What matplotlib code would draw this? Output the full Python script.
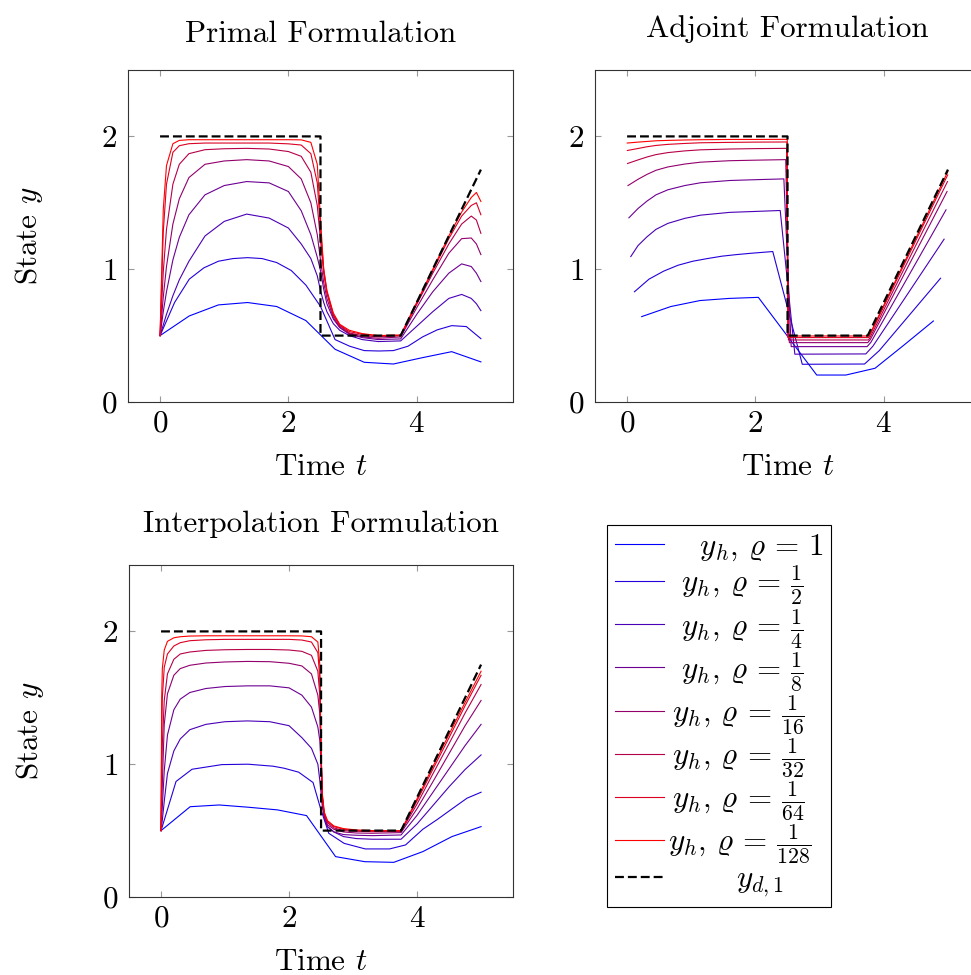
import matplotlib
matplotlib.use('Agg')
import matplotlib.pyplot as plt

plt.rcParams['font.family'] = 'serif'
plt.rcParams['font.serif'] = ['cmr10']
plt.rcParams['mathtext.fontset'] = 'cm'
plt.rcParams['axes.formatter.use_mathtext'] = True
plt.rcParams['font.size'] = 22

FS = 22.4

# target state y_d
yd_t = [0, 2.5, 2.5, 3.75, 5.0]
yd_v = [2.0, 2.0, 0.5, 0.5, 1.75]

# ---------------- primal formulation
p_t1 = [0, 0.455, 0.909, 1.364, 1.818, 2.273, 2.727, 3.182, 3.636, 4.091, 4.545, 5.0]
p_y1 = [0.5, 0.648, 0.731, 0.749, 0.719, 0.613, 0.397, 0.299, 0.286, 0.334, 0.379, 0.302]
p_t2 = [0, 0.227, 0.455, 0.682, 0.909, 1.136, 1.364, 1.591, 1.818, 2.045, 2.273, 2.5,
        2.727, 2.955, 3.182, 3.409, 3.636, 3.864, 4.091, 4.318, 4.545, 4.773, 5.0]
p_y2 = [0.5, 0.75, 0.925, 1.01, 1.06, 1.08, 1.087, 1.08, 1.05, 0.99, 0.88, 0.72,
        0.47, 0.42, 0.387, 0.384, 0.387, 0.42, 0.49, 0.543, 0.575, 0.568, 0.477]
p_t = [0, 0.05, 0.1, 0.2, 0.3, 0.45, 0.7, 1.0, 1.35, 1.7, 2.0, 2.2, 2.35, 2.45, 2.5,
       2.55, 2.6, 2.7, 2.8, 2.95, 3.15, 3.4, 3.75, 4.0, 4.25, 4.5, 4.7, 4.85, 4.93, 5.0]
p_y4 = [0.5, 0.58, 0.66, 0.80, 0.92, 1.06, 1.25, 1.36, 1.415, 1.385, 1.31, 1.19, 1.08, 0.95, 0.84,
        0.75, 0.68, 0.59, 0.54, 0.50, 0.47, 0.455, 0.46, 0.57, 0.68, 0.78, 0.81, 0.78, 0.74, 0.688]
p_y8 = [0.5, 0.68, 0.83, 1.07, 1.24, 1.41, 1.56, 1.63, 1.66, 1.65, 1.585, 1.44, 1.26, 1.09, 0.99,
        0.85, 0.74, 0.625, 0.56, 0.51, 0.485, 0.47, 0.475, 0.66, 0.83, 0.97, 1.04, 1.02, 0.97, 0.907]
p_y16 = [0.5, 0.79, 1.02, 1.34, 1.53, 1.69, 1.79, 1.815, 1.825, 1.815, 1.773, 1.68, 1.50, 1.26, 1.07,
         0.90, 0.78, 0.635, 0.565, 0.515, 0.49, 0.48, 0.49, 0.71, 0.92, 1.12, 1.23, 1.235, 1.19, 1.11]
p_y32 = [0.5, 0.98, 1.30, 1.64, 1.79, 1.87, 1.90, 1.907, 1.91, 1.905, 1.886, 1.85, 1.73, 1.48, 1.22,
         0.97, 0.82, 0.65, 0.575, 0.52, 0.50, 0.49, 0.50, 0.735, 0.97, 1.19, 1.34, 1.40, 1.37, 1.27]
p_y64 = [0.5, 1.28, 1.64, 1.88, 1.93, 1.945, 1.95, 1.95, 1.95, 1.95, 1.944, 1.935, 1.87, 1.65, 1.30,
         1.0, 0.83, 0.66, 0.58, 0.53, 0.51, 0.497, 0.50, 0.745, 0.99, 1.23, 1.40, 1.48, 1.50, 1.41]
p_y128 = [0.5, 1.45, 1.78, 1.945, 1.97, 1.975, 1.975, 1.975, 1.975, 1.975, 1.975, 1.974, 1.955, 1.79, 1.38,
          1.0, 0.84, 0.67, 0.585, 0.54, 0.515, 0.50, 0.505, 0.75, 1.0, 1.25, 1.43, 1.54, 1.578, 1.51]

# ---------------- adjoint formulation
a_t1 = [0.227, 0.682, 1.136, 1.591, 2.045, 2.955, 3.409, 3.864, 4.318, 4.773]
a_y1 = [0.643, 0.719, 0.764, 0.78, 0.788, 0.203, 0.203, 0.254, 0.43, 0.61]
a_t2 = [0.114, 0.341, 0.568, 0.795, 1.023, 1.25, 1.477, 1.705, 1.932, 2.27, 2.73, 3.70, 3.93, 4.885]
a_y2 = [0.83, 0.925, 0.985, 1.03, 1.06, 1.08, 1.098, 1.11, 1.12, 1.133, 0.284, 0.286, 0.387, 0.932]
a_t4 = [0.057, 0.17, 0.31, 0.45, 0.635, 0.9, 1.146, 1.6, 2.0, 2.386, 2.614, 3.72, 3.83, 4.94]
a_y4 = [1.095, 1.178, 1.244, 1.30, 1.345, 1.383, 1.407, 1.428, 1.435, 1.442, 0.36, 0.362, 0.42, 1.226]
a_t8 = [0.028, 0.17, 0.31, 0.45, 0.635, 0.9, 1.146, 1.6, 2.0, 2.443, 2.557, 3.74, 3.8, 4.97]
a_y8 = [1.387, 1.457, 1.513, 1.56, 1.598, 1.63, 1.651, 1.668, 1.674, 1.68, 0.417, 0.417, 0.45, 1.447]
a_t16 = [0.014, 0.17, 0.31, 0.45, 0.635, 0.9, 1.146, 1.6, 2.0, 2.472, 2.528, 3.75, 3.79, 4.986]
a_y16 = [1.63, 1.677, 1.714, 1.745, 1.77, 1.792, 1.806, 1.817, 1.821, 1.825, 0.447, 0.447, 0.47, 1.585]
a_t32 = [0.007, 0.17, 0.31, 0.45, 0.635, 0.9, 1.146, 1.6, 2.0, 2.486, 2.514, 3.76, 3.78, 4.993]
a_y32 = [1.796, 1.823, 1.845, 1.863, 1.878, 1.891, 1.899, 1.905, 1.908, 1.91, 0.467, 0.467, 0.48, 1.66]
a_t64 = [0.004, 0.17, 0.31, 0.45, 0.635, 0.9, 1.146, 1.6, 2.0, 2.493, 2.507, 3.765, 4.996]
a_y64 = [1.894, 1.909, 1.922, 1.932, 1.94, 1.947, 1.952, 1.955, 1.957, 1.958, 0.485, 0.485, 1.71]
a_t128 = [0.002, 0.17, 0.31, 0.45, 0.635, 0.9, 1.146, 1.6, 2.0, 2.496, 2.504, 3.77, 4.998]
a_y128 = [1.95, 1.957, 1.962, 1.967, 1.97, 1.973, 1.975, 1.977, 1.977, 1.978, 0.497, 0.497, 1.735]

# ---------------- interpolation formulation
i_t1 = [0, 0.455, 0.909, 1.364, 1.818, 2.273, 2.727, 3.182, 3.636, 4.091, 4.545, 5.0]
i_y1 = [0.5, 0.68, 0.693, 0.676, 0.656, 0.613, 0.304, 0.266, 0.261, 0.342, 0.455, 0.53]
i_t2 = [0, 0.234, 0.484, 0.95, 1.36, 1.75, 1.92, 2.15, 2.375, 2.49, 2.62, 2.86, 3.19, 3.57,
        3.82, 4.09, 4.32, 4.55, 4.78, 5.0]
i_y2 = [0.5, 0.87, 0.962, 0.997, 1.0, 0.985, 0.97, 0.94, 0.862, 0.67, 0.48, 0.404, 0.362, 0.362,
        0.392, 0.51, 0.585, 0.665, 0.744, 0.789]
i_t = [0, 0.01, 0.02, 0.05, 0.1, 0.2, 0.3, 0.45, 0.7, 1.0, 1.35, 1.7, 2.0, 2.2, 2.35, 2.45, 2.48,
       2.5, 2.52, 2.55, 2.6, 2.7, 2.85, 3.05, 3.3, 3.75, 4.0, 4.25, 4.5, 4.75, 5.0]
i_y4 = [0.5, 0.54, 0.58, 0.72, 0.93, 1.10, 1.19, 1.26, 1.30, 1.32, 1.326, 1.32, 1.29, 1.20, 1.12, 1.0,
        0.88, 0.78, 0.68, 0.60, 0.53, 0.49, 0.455, 0.44, 0.435, 0.435, 0.55, 0.69, 0.83, 0.96, 1.07]
i_y8 = [0.5, 0.6, 0.68, 0.95, 1.22, 1.41, 1.49, 1.54, 1.57, 1.585, 1.59, 1.59, 1.575, 1.52, 1.43, 1.28,
        1.18, 1.0, 0.75, 0.60, 0.53, 0.49, 0.47, 0.465, 0.462, 0.467, 0.615, 0.79, 0.965, 1.14, 1.30]
i_y16 = [0.5, 0.7, 0.85, 1.30, 1.53, 1.67, 1.72, 1.745, 1.762, 1.77, 1.774, 1.772, 1.76, 1.74, 1.68, 1.52,
         1.38, 1.05, 0.74, 0.61, 0.545, 0.51, 0.49, 0.482, 0.48, 0.485, 0.665, 0.87, 1.08, 1.29, 1.48]
i_y32 = [0.5, 0.9, 1.15, 1.48, 1.68, 1.79, 1.83, 1.845, 1.857, 1.862, 1.864, 1.864, 1.86, 1.85, 1.82, 1.70,
         1.52, 1.08, 0.75, 0.62, 0.56, 0.52, 0.50, 0.495, 0.492, 0.494, 0.70, 0.93, 1.155, 1.385, 1.60]
i_y64 = [0.5, 1.2, 1.5, 1.73, 1.83, 1.89, 1.915, 1.93, 1.937, 1.94, 1.94, 1.94, 1.94, 1.935, 1.92, 1.84,
         1.65, 1.10, 0.76, 0.63, 0.57, 0.53, 0.51, 0.50, 0.497, 0.498, 0.725, 0.965, 1.20, 1.44, 1.67]
i_y128 = [0.5, 1.5, 1.72, 1.86, 1.925, 1.952, 1.96, 1.965, 1.967, 1.967, 1.967, 1.967, 1.967, 1.966, 1.96,
          1.92, 1.75, 1.1, 0.78, 0.64, 0.575, 0.535, 0.515, 0.505, 0.50, 0.50, 0.74, 0.985, 1.225, 1.465, 1.70]

# legend labels (leading space roughly centres them like pgfplots does)
labels = [r'$\quad\, y_h,\, \varrho \,=\, 1$',
          r'$\enspace y_h,\, \varrho \,=\, \frac{1}{2}$',
          r'$\enspace y_h,\, \varrho \,=\, \frac{1}{4}$',
          r'$\enspace y_h,\, \varrho \,=\, \frac{1}{8}$',
          r'$\, y_h,\, \varrho \,=\, \frac{1}{16}$',
          r'$\, y_h,\, \varrho \,=\, \frac{1}{32}$',
          r'$\, y_h,\, \varrho \,=\, \frac{1}{64}$',
          r'$y_h,\, \varrho \,=\, \frac{1}{128}$']
yd_label = r'$\qquad\enspace y_{d,1}$'

primal = [(p_t1, p_y1), (p_t2, p_y2), (p_t, p_y4), (p_t, p_y8), (p_t, p_y16),
          (p_t, p_y32), (p_t, p_y64), (p_t, p_y128)]
adjoint = [(a_t1, a_y1), (a_t2, a_y2), (a_t4, a_y4), (a_t8, a_y8), (a_t16, a_y16),
           (a_t32, a_y32), (a_t64, a_y64), (a_t128, a_y128)]
interp = [(i_t1, i_y1), (i_t2, i_y2), (i_t, i_y4), (i_t, i_y8), (i_t, i_y16),
          (i_t, i_y32), (i_t, i_y64), (i_t, i_y128)]

fig = plt.figure(figsize=(9.71, 9.75), dpi=100)
ax1 = fig.add_axes([0.1318, 0.5877, 0.3965, 0.3405])
ax2 = fig.add_axes([0.6128, 0.5877, 0.3965, 0.3405])
ax3 = fig.add_axes([0.1329, 0.0800, 0.3955, 0.3405])


def draw(ax, curves, title, tpad, ylab):
    for k, (t, y) in enumerate(curves):
        c = (k / 7.0, 0.0, 1.0 - k / 7.0)
        ax.plot(t, y, color=c, lw=0.8, label=labels[k])
    ax.plot(yd_t, yd_v, color='black', lw=1.6, dashes=(4, 1.8), label=yd_label)
    ax.set_xlim(-0.5, 5.5)
    ax.set_ylim(0, 2.5)
    ax.set_xticks([0, 2, 4])
    ax.set_yticks([0, 1, 2])
    ax.tick_params(direction='in', top=True, right=True, length=4, width=0.8,
                   color='#999999', labelsize=FS)
    ax.tick_params(axis='x', pad=6)
    ax.tick_params(axis='y', pad=8)
    for s in ax.spines.values():
        s.set_color('#333333')
        s.set_linewidth(0.8)
    ax.set_title(title, fontsize=FS, pad=tpad)
    ax.set_xlabel(r'Time $t$', fontsize=FS, labelpad=11.5)
    if ylab:
        ax.set_ylabel(r'State $y$', fontsize=FS)
        ax.yaxis.set_label_coords(-0.215, 0.5)


draw(ax1, primal, 'Primal Formulation', 20.5, True)
draw(ax2, adjoint, 'Adjoint Formulation', 24, False)
draw(ax3, interp, 'Interpolation Formulation', 24, True)

handles, labs = ax1.get_legend_handles_labels()
leg = fig.legend(handles, labs, loc='upper left', bbox_to_anchor=(0.625, 0.4615),
                 bbox_transform=fig.transFigure, borderaxespad=0, fancybox=False,
                 edgecolor='black', framealpha=1, fontsize=FS, handlelength=1.6,
                 labelspacing=0.0, borderpad=0.25, handletextpad=0.1)
leg.get_frame().set_linewidth(0.8)

plt.savefig('out.png', dpi=100)
